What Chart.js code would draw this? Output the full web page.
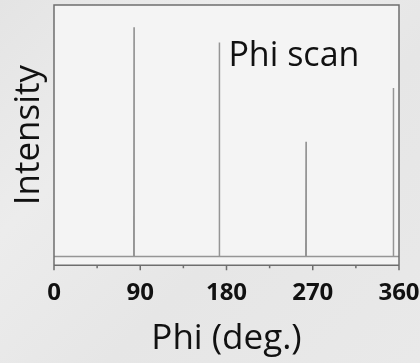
<!DOCTYPE html>
<html>
<head>
<meta charset="utf-8">
<script src="https://cdn.jsdelivr.net/npm/chart.js@4/dist/chart.umd.min.js"></script>
<style>
  html, body { margin: 0; padding: 0; }
  body {
    width: 420px; height: 363px; overflow: hidden;
    background: linear-gradient(135deg, #e4e4e4 0%, #ececec 30%, #e6e6e6 60%, #e9e9e9 100%);
  }
  #wrap { position: relative; width: 420px; height: 363px; }
</style>
</head>
<body>
<div id="wrap"><canvas id="phiChart" width="420" height="363"></canvas></div>
<script>
// --- Data ---
const phiValues = [0, 83.2, 83.5, 83.6, 83.8, 172.2, 172.5, 172.6, 172.8, 262.7, 263, 263.1, 263.3, 353.8, 354.1, 354.2, 354.4, 360];
const intensityValues = [0, 0, 91.1, 68.6, 0, 0, 85.1, 63.7, 0, 0, 45.6, 33.5, 0, 0, 67.0, 50.5, 0, 0];
const majorTicks = [0, 90, 180, 270, 360];
const minorTicks = [45, 135, 225, 315];
const labelText = 'Phi scan';
const labelPos = { phi: 182, intensity: 75.8 };

const FONT = '"Open Sans", "Noto Sans", sans-serif';
const frameColor = '#6e6e6e';

// --- Helpers ---
function getEl(id) {
  return document.getElementById(id);
}

// frame, axis ticks and the in-plot label
const framePlugin = {
  id: 'frame',
  beforeDraw(chart) {
    const { ctx, chartArea: a } = chart;
    ctx.save();
    ctx.fillStyle = '#f4f4f4';
    ctx.fillRect(a.left, a.top, a.right - a.left, a.bottom - a.top);
    ctx.restore();
  },
  afterDraw(chart) {
    const { ctx, chartArea: a, scales } = chart;
    const x = scales.x, y = scales.y;
    ctx.save();
    ctx.strokeStyle = frameColor;
    ctx.lineWidth = 1.5;
    ctx.beginPath();
    ctx.moveTo(a.left, a.bottom + 5);
    ctx.lineTo(a.left, a.top);
    ctx.lineTo(a.right, a.top);
    ctx.lineTo(a.right, a.bottom + 5);
    ctx.moveTo(a.left, a.bottom);
    ctx.lineTo(a.right, a.bottom);
    majorTicks.forEach(v => {
      const px = x.getPixelForValue(v);
      ctx.moveTo(px, a.bottom);
      ctx.lineTo(px, a.bottom + 5);
    });
    minorTicks.forEach(v => {
      const px = x.getPixelForValue(v);
      ctx.moveTo(px, a.bottom);
      ctx.lineTo(px, a.bottom + 3);
    });
    ctx.stroke();

    ctx.fillStyle = '#111';
    ctx.font = '34px ' + FONT;
    ctx.textBaseline = 'alphabetic';
    ctx.textAlign = 'left';
    ctx.fillText(labelText, x.getPixelForValue(labelPos.phi), y.getPixelForValue(labelPos.intensity));
    ctx.restore();
  }
};

// --- Chart setup ---
function initChart() {
  const el = getEl('phiChart');
  return new Chart(el.getContext('2d'), {
    type: 'line',
    data: {
      datasets: [{
        data: phiValues.map((p, i) => ({ x: p, y: intensityValues[i] })),
        borderColor: '#959595',
        borderWidth: 1.5,
        pointRadius: 0,
        tension: 0,
        fill: false
      }]
    },
    options: {
      responsive: false,
      animation: false,
      events: [],
      layout: { padding: { top: 5, left: 8, right: 21, bottom: 6 } },
      plugins: { legend: { display: false }, tooltip: { enabled: false } },
      scales: {
        x: {
          type: 'linear',
          min: 0,
          max: 360,
          afterBuildTicks: s => { s.ticks = majorTicks.map(v => ({ value: v })); },
          afterFit: s => { s.paddingLeft = 0; s.paddingRight = 0; },
          grid: { display: false, drawTicks: false },
          border: { display: false },
          ticks: {
            color: '#111',
            padding: 14,
            maxRotation: 0,
            font: { family: FONT, size: 24, weight: 'bold' }
          },
          title: {
            display: true,
            text: 'Phi (deg.)',
            color: '#111',
            padding: { top: 0, bottom: 0 },
            font: { family: FONT, size: 35, lineHeight: 1.0 }
          }
        },
        y: {
          min: -3.5,
          max: 100,
          grid: { display: false, drawTicks: false },
          border: { display: false },
          ticks: { display: false },
          title: {
            display: true,
            text: 'Intensity',
            color: '#111',
            padding: { top: 0, bottom: 4 },
            font: { family: FONT, size: 35, lineHeight: 1.2 }
          }
        }
      }
    },
    plugins: [framePlugin]
  });
}

// --- Init ---
initChart();
</script>
</body>
</html>
